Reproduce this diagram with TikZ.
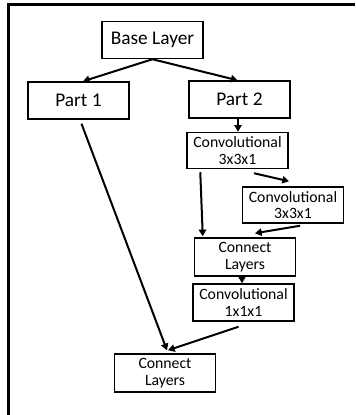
\documentclass[tikz,border=0pt]{standalone}
\usepackage{fontspec}
\setmainfont{Carlito}
\usetikzlibrary{arrows.meta,calc}
\tikzset{
  blk/.style={draw=black, line width=1.1pt, fill=white, minimum width=101*0.75pt,
              inner sep=0pt, align=center},
  bigblk/.style={blk, minimum height=37*0.75pt, font=\fontsize{14.5}{16}\selectfont},
  smallblk/.style={blk, minimum height=36*0.75pt, font=\fontsize{11.8}{12.6}\selectfont},
  flow/.style={line width=1.5pt, -{Triangle[length=5pt,width=5.5pt]}}
}
\begin{document}
\begin{tikzpicture}[x=0.75pt,y=-0.75pt]
  \useasboundingbox (0,0) rectangle (355,415);
  % open frame along the top and left edges
  \draw[line width=1.6pt] (8.5,415) -- (8.5,4.5) -- (355,4.5);

  \node[bigblk] (base) at (152.5,40) {Base Layer};
  \node[bigblk] (p1) at (78.5,100.5) {Part 1};
  \node[bigblk] (p2) at (239.5,99.5) {Part 2};
  \node[smallblk] (c1) at (237.5,150.5) {Convolutional\\3x3x1};
  \node[smallblk] (c2) at (293,205) {Convolutional\\3x3x1};
  \node[smallblk, minimum height=38*0.75pt] (k1) at (245,257) {Connect\\Layers};
  \node[smallblk, minimum height=37*0.75pt] (c3) at (243.5,302.5) {Convolutional\\1x1x1};
  \node[smallblk, minimum height=38*0.75pt] (k2) at (165,373) {Connect\\Layers};

  \draw[flow] (base.south) -- ($(p1.north)+(4.5,0)$);
  \draw[flow] (base.south) -- ($(p2.north)+(-2,0)$);
  \draw[flow] ($(p2.south)+(-1.5,0)$) -- ($(c1.north)+(0.5,0)$);
  \draw[flow] ($(c1.south west)+(14,3)$) -- ($(k1.north west)+(9,-1)$);
  \draw[flow] ($(c1.south)+(16.5,4)$) -- ($(c2.north)+(-4,-5)$);
  \draw[flow] ($(c2.south)+(7,2)$) -- ($(k1.north)+(10,-4)$);
  \draw[flow] ($(k1.south)+(-3,0)$) -- ($(c3.north)+(-1.5,0)$);
  \draw[flow] ($(c3.south)+(-5,5)$) -- ($(k2.north)+(3,-3)$);
  \draw[flow] ($(p1.south)+(3,4)$) -- ($(k2.north)+(2,-3)$);
\end{tikzpicture}
\end{document}
